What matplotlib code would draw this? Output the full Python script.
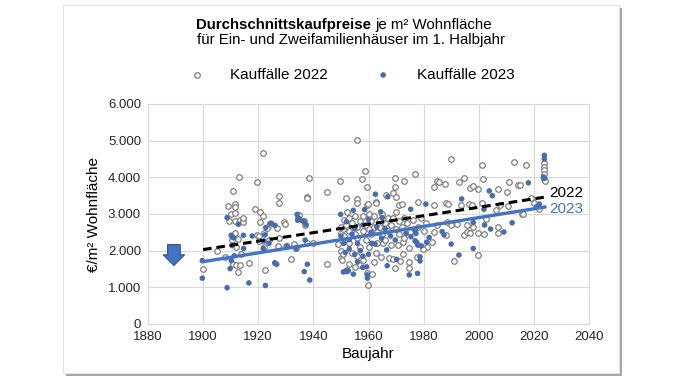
import numpy as np
import matplotlib
matplotlib.use("Agg")
import matplotlib.pyplot as plt
from matplotlib.patches import Rectangle
from matplotlib.ticker import FuncFormatter

plt.rcParams['font.family'] = ['Liberation Sans', 'DejaVu Sans']

# Kauffaelle 2022 (Baujahr, EUR/m2)
y22 = [1900, 1905, 1908, 1909, 1909.5, 1910, 1911, 1911, 1911.5, 1911.7, 1911.7, 1911.7, 1911.7,
       1912, 1912, 1912.5, 1910.5, 1912.7, 1913, 1913.4, 1913.4, 1913.7, 1914.6, 1914.6, 1914.6,
       1916.6, 1918.7, 1919.5, 1919.5, 1920.3, 1920.2, 1920.8, 1920.8, 1921.6, 1921.8, 1922,
       1922.2, 1922.6, 1923, 1924, 1924.3, 1926.7, 1927.2, 1927.4, 1927.6, 1927.6, 1929.3, 1929.8,
       1930, 1931.8, 1932.8, 1933.6, 1934.6, 1934.8, 1936.6, 1937.1, 1937.6, 1937.7, 1937.8,
       1938.5, 1939.7, 1944.8, 1944.8, 1948.9, 1949.8, 1949.9, 1949.9, 1949.9, 1950.4, 1950.9,
       1950.9, 1951.7, 1952.3, 1952.4, 1955.7, 1955.9, 1955.9, 1957.8, 1958.8, 1959.5, 1959.5,
       1959.9, 1962.7, 1962.7, 1966.4, 1969, 1969.7, 1969.6, 1969.9, 1971.2, 1972, 1972.9, 1977,
       1977.8, 1983.8, 1983.9, 1984.7, 1985.6, 1987.9, 1988.1, 1988.7, 1989.9, 1992.8, 1993.4,
       1994.7, 1996.6, 1996.9, 1997.7, 1997.8, 1999.6, 2001, 2001.1, 2001.7, 2006.1, 2007,
       2007.7, 2010.1, 2010.6, 2010.8, 2012.8, 2014.1, 2015, 2015.7, 2015.9, 2017, 2023.8,
       2023.8, 2023.8, 2023.8, 2023.6, 2024, 2007, 2007, 2001.9, 2002.6, 1998, 1994.7, 1995.9,
       1996.8, 1999.7, 1999.7, 1990.9, 1988.1, 1990, 1988.6, 1992, 1995.6, 1983.8, 1984.7,
       1982.9, 1981.3, 1979.9, 1974.8, 1975.7, 1977.7, 1974.8, 1974.8, 1970.6, 1972.4, 1972.4,
       1971.4, 1969.7, 1967.5, 1969, 1964.6, 1962.7, 1965.1, 1959.6, 1961.2, 1959.8,
       1950, 1951, 1952, 1953, 1953, 1954, 1955, 1955, 1956, 1956, 1957, 1957, 1958, 1958,
       1959, 1959, 1960, 1960, 1961, 1961, 1962, 1962, 1963, 1963, 1964, 1964, 1965, 1965,
       1966, 1966, 1967, 1967, 1968, 1968, 1969, 1970, 1970, 1971, 1971, 1972, 1973, 1973,
       1974, 1975, 1976, 1978, 1979, 1980, 1981, 1953, 1954, 1956, 1957, 1958, 1955, 1953,
       1960, 1962, 1951, 2020, 2022, 2019]
v22 = [1490, 1980, 1830, 3230, 2820, 3000, 3630, 1650, 2470, 3260, 3200, 2810, 3030,
       1600, 2110, 2320, 2290, 1430, 4000, 1610, 2830, 1900, 2860, 2770, 2880,
       1670, 3140, 2440, 3860, 2400, 2270, 3050, 2790, 4660, 2950, 2490,
       2090, 1460, 2630, 2290, 2740, 2610, 2130, 2340, 3500, 3310, 2780, 2740,
       2130, 1780, 2180, 2080, 2920, 2960, 2810, 2700, 2200, 3460, 3450,
       3990, 2200, 3590, 1650, 2170, 3890, 2470, 1790, 1990, 1740, 2590,
       1920, 3450, 3060, 2290, 5010, 3400, 3290, 3960, 4170, 3740, 3240,
       3270, 3320, 3310, 3510, 3560, 3990, 3740, 3470, 3240, 3260, 3900, 4090,
       3340, 3730, 3250, 3910, 3860, 3830, 3310, 3260, 4500, 3880, 3240,
       3970, 3260, 3720, 3240, 3760, 3680, 3290, 4350, 3950, 3110, 3670,
       3240, 3610, 3220, 3880, 4430, 3790, 3790, 3000, 3010, 4350, 4380,
       4290, 4200, 4100, 3960, 3900, 2650, 2470, 2450, 2860, 2650, 2420, 2500,
       2470, 2470, 1870, 1720, 2420, 2700, 2780, 2740, 2700, 2520, 2700,
       2240, 2110, 2040, 2060, 2560, 1830, 1700, 1520, 2150, 2240, 1920,
       1730, 1530, 1790, 1760, 1830, 1950, 2220, 1400, 1360, 1060,
       2650, 2850, 2700, 2550, 2900, 2750, 2450, 2950, 2650, 2350, 2800, 2100, 2550, 2950,
       2700, 2300, 2600, 3000, 2450, 2800, 2650, 2950, 2500, 2200, 2850, 2650, 2450, 3000,
       2750, 2300, 2550, 2900, 2700, 2150, 2900, 2600, 3050, 2450, 2800, 2650, 2900, 2350,
       2750, 2500, 2850, 2650, 2900, 2550, 2750, 2200, 1950, 1850, 1600, 1750, 1550, 1650,
       2100, 1700, 2400, 3300, 3150, 3450]

# Kauffaelle 2023
y23 = [1899.7, 1899.7, 1908.7, 1908.7, 1909.8, 1910.2, 1910.2, 1910.5, 1910.7, 1911.3, 1910.5,
       1911, 1912.8, 1914.6, 1914.7, 1916.6, 1917.8, 1922.1, 1922.6, 1921.8, 1922.4, 1922.7,
       1923.9, 1924.3, 1924.7, 1926, 1926.7, 1926.1, 1926.1, 1930.5, 1933.7, 1934.1, 1934.7,
       1934.3, 1936.1, 1936.6, 1937, 1937.3, 1936.7, 1937.8, 1938.7, 1949.9, 1950.9, 1952.1,
       1951.6, 1952, 1962.5, 1964.4, 1967, 1975.3, 1980.8, 1993.8, 2001.9, 2003.8, 2004.9,
       2018, 2022, 2023.8, 2023.8, 2023.5, 2023.8, 1954.5, 1958.6,
       2012.1, 2009.1, 2004.3, 2002.1, 1998, 1998, 1992.8, 1990, 1986.7, 1987.4, 1982, 1981.1,
       1979.2, 1975.4, 1976.9, 1977.5, 1977.9, 1976.9, 1977.2, 1978.7, 1978.7, 1974.8, 1977.8,
       1969.7, 1973.6, 1966.8, 1970.2, 1966.6, 1961.2, 1962.4, 1964.7, 1959.3, 1959.6, 1959.6,
       1957.9, 1954.5, 1952.1, 1952.7,
       1953, 1954, 1955, 1956, 1953, 1955, 1957, 1958, 1960, 1961, 1963, 1965, 1966, 1968,
       1960, 1956, 1958, 1951, 1950, 2021]
v23 = [1730, 1250, 990, 2900, 1510, 1730, 2420, 2140, 2150, 1860, 2380,
       2350, 2720, 2420, 2060, 1120, 2400, 2260, 1050, 2060, 2430, 2630,
       2200, 2740, 2750, 1670, 1630, 2690, 1650, 2130, 2050, 2990, 2880,
       2830, 2810, 2800, 2290, 2710, 1430, 1630, 1200, 2990, 1420, 1470,
       1950, 2790, 3540, 3060, 3470, 3130, 3270, 3410, 3130, 3630, 3500,
       3850, 3270, 4600, 4500, 4010, 3970, 3100, 3120,
       2760, 2510, 2590, 2700, 2770, 2060, 1880, 2180, 2520, 2430, 2360, 2230,
       2130, 2380, 2270, 2220, 2150, 2560, 2470, 1830, 1720, 1340, 1380,
       2290, 2470, 1590, 1760, 2020, 2200, 2180, 2340, 1560, 1340, 1250,
       1540, 1360, 1430, 1450,
       2300, 2450, 2600, 2200, 2050, 1900, 2000, 2700, 2850, 2500, 2650, 2900, 2600, 2400,
       1900, 1700, 1850, 2200, 2400, 3200]

# linear trends
trend_x = [1900, 2024]
trend_22 = [2030, 3460]
trend_23 = [1700, 3190]

fig = plt.figure(figsize=(6.78, 3.81), dpi=100)

# card frame with shadow
fig.patches.append(Rectangle((66 / 678, 1 - 376 / 381), 556 / 678, 368 / 381,
                             transform=fig.transFigure, fc='#a6a6a6', ec='none', zorder=-3))
fig.patches.append(Rectangle((63 / 678, 1 - 373 / 381), 556 / 678, 368 / 381,
                             transform=fig.transFigure, fc='white', ec='#e3e3e3', lw=0.8, zorder=-2))

ax = fig.add_axes([148 / 678, 1 - 324 / 381, 441 / 678, 220 / 381])
ax.set_facecolor('none')

s22 = ax.scatter(y22, v22, s=16, facecolors='white', edgecolors='#7f7f7f', linewidths=0.9,
                 zorder=3, label='Kauffälle 2022')
s23 = ax.scatter(y23, v23, s=16, color='#4a6ca8', edgecolors='none', zorder=4,
                 label='Kauffälle 2023')

ax.plot(trend_x, trend_22, color='black', lw=2.2, dashes=(2.8, 1.6), zorder=5)
ax.plot(trend_x, trend_23, color='#4472c4', lw=2.4, zorder=5)
ax.text(2025.5, 3560, '2022', fontsize=11, color='black', va='center', zorder=6)
ax.text(2025.5, 3130, '2023', fontsize=11, color='#4472c4', va='center', zorder=6)

# blue arrow
ax.annotate('', xy=(1889.4, 1520), xytext=(1889.4, 2240),
            arrowprops=dict(arrowstyle='simple,head_length=0.55,head_width=1.1,tail_width=0.65',
                            mutation_scale=14, fc='#4472c4', ec='#2f528f', lw=0.8))

ax.set_xlim(1880, 2040)
ax.set_ylim(0, 6000)
ax.set_xticks(range(1880, 2041, 20))
ax.set_yticks(range(0, 6001, 1000))
ax.yaxis.set_major_formatter(FuncFormatter(lambda v, p: f'{int(v):,}'.replace(',', '.')))
ax.grid(True, color='#d9d9d9', lw=0.8, zorder=0)
ax.tick_params(length=0, labelsize=9.5, colors='#262626', pad=5)
for sp in ax.spines.values():
    sp.set_color('#d9d9d9')
    sp.set_linewidth(0.8)

ax.set_xlabel('Baujahr', fontsize=11, labelpad=3)
ax.set_ylabel('€/m² Wohnfläche', fontsize=11, labelpad=5)

fig.text(371 / 678, 1 - 25 / 381, 'Durchschnittskaufpreise', fontsize=10.8, fontweight='bold',
         ha='right', va='center')
fig.text(375 / 678, 1 - 25 / 381, 'je m² Wohnfläche', fontsize=10.8, ha='left', va='center')
fig.text(351 / 678, 1 - 40 / 381, 'für Ein- und Zweifamilienhäuser im 1. Halbjahr',
         fontsize=10.8, ha='center', va='center')

fig.legend(handles=[s22, s23], loc='center', bbox_to_anchor=(348 / 678, 1 - 75 / 381),
           ncol=2, frameon=False, fontsize=11, columnspacing=2.6, handletextpad=1.2,
           scatterpoints=1)

fig.savefig('out.png', dpi=100)
